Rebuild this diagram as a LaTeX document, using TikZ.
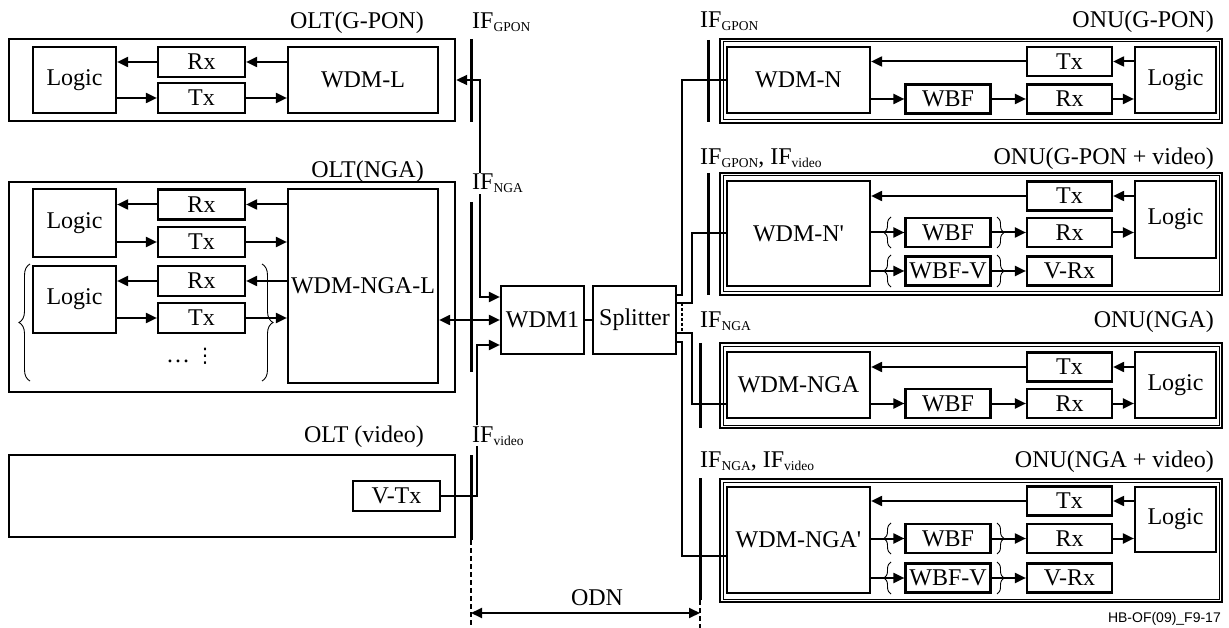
\documentclass[tikz,border=0pt]{standalone}
\usepackage{fontspec}
\setmainfont{Liberation Serif}
\newfontfamily\figfont{Liberation Sans}
\newfontfamily\symfont{DejaVu Sans}
\usetikzlibrary{arrows.meta,decorations.pathreplacing}
\newcommand{\lowtxt}[1]{\raisebox{-3pt}{\fontsize{13.5}{15}\selectfont #1}}
\tikzset{
  blk/.style={draw,line width=2.2pt,inner sep=0pt},
  trx/.style={blk,minimum width=87,minimum height=30},
  ntrx/.style={blk,minimum width=85,minimum height=29},
  oltbox/.style={draw,line width=2.4pt,inner sep=0pt},
  onu/.style={draw,line width=2pt,inner sep=0pt},
  onuin/.style={line width=1pt},
  link/.style={line width=2pt},
  arr/.style={link,-{Triangle[length=11pt,width=10pt]}},
  dblarr/.style={link,{Triangle[length=11pt,width=10pt]}-{Triangle[length=11pt,width=10pt]}},
  ifbar/.style={line width=3pt},
  ifdash/.style={line width=2.2pt,dash pattern=on 5pt off 3pt},
  brc/.style={decorate,decoration={brace,amplitude=11pt},line width=0.9pt},
  sbrc/.style={decorate,decoration={brace,amplitude=7pt},line width=0.9pt},
  lbl/.style={inner sep=1pt},
  cut/.style={inner sep=1pt,fill=white}
}
\begin{document}
\begin{tikzpicture}[x=1pt,y=-1pt,font=\fontsize{24}{27}\selectfont]
\useasboundingbox (0,0) rectangle (1229,628);
% OLT side
\node[oltbox,minimum width=446,minimum height=82] (olt1) at (232,80) {};
\node[blk,minimum width=83,minimum height=66] (lgA) at (74.5,80) {Logic};
\node[trx] (rxA) at (201.5,62) {Rx};
\node[trx] (txA) at (201.5,98) {Tx};
\node[blk,minimum width=150,minimum height=66] (wdmA) at (363,80) {WDM-L};
\draw[arr] (wdmA.west |- rxA) -- (rxA.east);
\draw[arr] (rxA.west) -- (lgA.east |- rxA);
\draw[arr] (lgA.east |- txA) -- (txA.west);
\draw[arr] (txA.east) -- (wdmA.west |- txA);

\node[oltbox,minimum width=446,minimum height=210] (olt2) at (232,287) {};
\node[blk,minimum width=83,minimum height=68] (lgB) at (74.5,223) {Logic};
\node[trx] (rxB) at (201.5,204.5) {Rx};
\node[trx] (txB) at (201.5,242) {Tx};
\node[blk,minimum width=83,minimum height=67] (lgC) at (74.5,299.5) {Logic};
\node[trx] (rxC) at (201.5,281) {Rx};
\node[trx] (txC) at (201.5,318) {Tx};
\node[blk,minimum width=150,minimum height=194] (wdmB) at (363,286) {WDM-NGA-L};
\draw[arr] (wdmB.west |- rxB) -- (rxB.east);
\draw[arr] (rxB.west) -- (lgB.east |- rxB);
\draw[arr] (lgB.east |- txB) -- (txB.west);
\draw[arr] (txB.east) -- (wdmB.west |- txB);
\draw[arr] (wdmB.west |- rxC) -- (rxC.east);
\draw[arr] (rxC.west) -- (lgC.east |- rxC);
\draw[arr] (lgC.east |- txC) -- (txC.west);
\draw[arr] (txC.east) -- (wdmB.west |- txC);
\draw[brc] (30,381) -- (30,264);
\draw[brc] (262,264) -- (262,381);
\node[lbl] (ell) at (178,361) {\ldots};
\node[lbl,font=\symfont\fontsize{20}{22}\selectfont] (vdt) at (205,356) {⋮};

\node[oltbox,minimum width=446,minimum height=82] (olt3) at (232,496) {};
\node[trx] (vtx) at (396.5,496) {V-Tx};

% centre
\node[blk,minimum width=83,minimum height=68] (wdm1) at (542.5,320) {WDM1};
\node[blk,minimum width=83,minimum height=68] (spl) at (634.5,320) {Splitter};
\draw[link] (wdm1) -- (spl);
\draw[dblarr] (olt1.east) -- ++(24,0) |- ([yshift=23pt]wdm1.west);
\draw[dblarr] (wdmB.east |- wdm1) -- (wdm1.west);
\draw[arr] (vtx.east) -- ++(36,0) |- ([yshift=-25pt]wdm1.west);

% ONU side
\node[onu,minimum width=502,minimum height=84] (onu1) at (971,81) {};
\draw[onuin] ([shift={(4pt,-4pt)}]onu1.north west) rectangle ([shift={(-4pt,4pt)}]onu1.south east);
\node[blk,minimum width=143,minimum height=66] (wdmN) at (798.5,80) {WDM-N};
\node[ntrx] (txN) at (1069.5,61.5) {Tx};
\node[ntrx] (wbfN) at (948,99) {WBF};
\node[ntrx] (rxN) at (1069.5,99) {Rx};
\node[blk,minimum width=81,minimum height=66] (lgN) at (1175.5,80) {Logic};
\draw[arr] (lgN.west |- txN) -- (txN.east);
\draw[arr] (txN.west) -- (wdmN.east |- txN);
\draw[arr] (wdmN.east |- wbfN) -- (wbfN.west);
\draw[arr] (wbfN.east) -- (rxN.west);
\draw[arr] (rxN.east) -- (lgN.west |- rxN);

\node[onu,minimum width=502,minimum height=122] (onu2) at (971,234) {};
\draw[onuin] ([shift={(4pt,-4pt)}]onu2.north west) rectangle ([shift={(-4pt,4pt)}]onu2.south east);
\node[blk,minimum width=143,minimum height=105] (wdmN2) at (798.5,233.5) {WDM-N\textquotesingle};
\node[ntrx] (txN2) at (1069.5,196) {Tx};
\node[blk,minimum width=81,minimum height=77] (lgN2) at (1175.5,219.5) {Logic};
\node[ntrx] (wbfN2) at (948,232.5) {WBF};
\node[ntrx] (rxN2) at (1069.5,232.5) {Rx};
\node[ntrx] (wbfvN2) at (948,271) {WBF-V};
\node[ntrx] (vrxN2) at (1069.5,271) {V-Rx};
\draw[arr] (lgN2.west |- txN2) -- (txN2.east);
\draw[arr] (txN2.west) -- (wdmN2.east |- txN2);
\draw[arr] (wdmN2.east |- wbfN2) -- (wbfN2.west);
\draw[arr] (wbfN2.east) -- (rxN2.west);
\draw[arr] (rxN2.east) -- (lgN2.west |- rxN2);
\draw[arr] (wdmN2.east |- wbfvN2) -- (wbfvN2.west);
\draw[arr] (wbfvN2.east) -- (vrxN2.west);

\node[onu,minimum width=502,minimum height=85] (onu3) at (971,385.5) {};
\draw[onuin] ([shift={(4pt,-4pt)}]onu3.north west) rectangle ([shift={(-4pt,4pt)}]onu3.south east);
\node[blk,minimum width=143,minimum height=66] (wdmG) at (798.5,385) {WDM-NGA};
\node[ntrx] (txG) at (1069.5,367) {Tx};
\node[ntrx] (wbfG) at (948,403.5) {WBF};
\node[ntrx] (rxG) at (1069.5,403.5) {Rx};
\node[blk,minimum width=81,minimum height=66] (lgG) at (1175.5,385) {Logic};
\draw[arr] (lgG.west |- txG) -- (txG.east);
\draw[arr] (txG.west) -- (wdmG.east |- txG);
\draw[arr] (wdmG.east |- wbfG) -- (wbfG.west);
\draw[arr] (wbfG.east) -- (rxG.west);
\draw[arr] (rxG.east) -- (lgG.west |- rxG);

\node[onu,minimum width=502,minimum height=123] (onu4) at (971,540.5) {};
\draw[onuin] ([shift={(4pt,-4pt)}]onu4.north west) rectangle ([shift={(-4pt,4pt)}]onu4.south east);
\node[blk,minimum width=143,minimum height=106] (wdmG2) at (798.5,540) {WDM-NGA\textquotesingle};
\node[ntrx] (txG2) at (1069.5,501) {Tx};
\node[blk,minimum width=81,minimum height=65] (lgG2) at (1175.5,519.5) {Logic};
\node[ntrx] (wbfG2) at (948,538.5) {WBF};
\node[ntrx] (rxG2) at (1069.5,538.5) {Rx};
\node[ntrx] (wbfvG2) at (948,578) {WBF-V};
\node[ntrx] (vrxG2) at (1069.5,578) {V-Rx};
\draw[arr] (lgG2.west |- txG2) -- (txG2.east);
\draw[arr] (txG2.west) -- (wdmG2.east |- txG2);
\draw[arr] (wdmG2.east |- wbfG2) -- (wbfG2.west);
\draw[arr] (wbfG2.east) -- (rxG2.west);
\draw[arr] (rxG2.east) -- (lgG2.west |- rxG2);
\draw[arr] (wdmG2.east |- wbfvG2) -- (wbfvG2.west);
\draw[arr] (wbfvG2.east) -- (vrxG2.west);

\draw[sbrc] (891,248) -- (891,217);
\draw[sbrc] (997,217) -- (997,248);
\draw[sbrc] (891,287) -- (891,255);
\draw[sbrc] (997,255) -- (997,287);
\draw[sbrc] (891,554) -- (891,523);
\draw[sbrc] (997,523) -- (997,554);
\draw[sbrc] (891,594) -- (891,562);
\draw[sbrc] (997,562) -- (997,594);

% splitter outputs
\draw[link] ([yshift=25pt]spl.east) -- ++(5,0) |- (wdmN.west);
\draw[link] ([yshift=17pt]spl.east) -- ++(15,0) |- (wdmN2.west);
\draw[link] ([yshift=-13pt]spl.east) -- ++(15,0) |- (wdmG.west |- wbfG);
\draw[link] ([yshift=-22pt]spl.east) -- ++(5,0) |- ([yshift=-16pt]wdmG2.west);
\draw[link,dash pattern=on 3pt off 2pt] ([xshift=5pt,yshift=17pt]spl.east) -- ([xshift=5pt,yshift=-13pt]spl.east);

% interfaces
\draw[ifbar] (471,39) -- (471,122);
\draw[ifbar] (471,202) -- (471,372);
\draw[ifbar] (471,455) -- (471,540);
\draw[ifdash] (471,540) -- (471,628);
\draw[ifbar] (708,40) -- (708,122);
\draw[ifbar] (708,173) -- (708,295);
\draw[ifbar] (700,343) -- (700,428);
\draw[ifbar] (700,478) -- (700,600);
\draw[ifdash] (700,600) -- (700,628);
\coordinate (odnL) at (471,613);
\coordinate (odnR) at (700,613);
\draw[dblarr] (odnL) -- (odnR);
\node[lbl,anchor=base] (odn) at (597,605) {ODN};

% labels
\node[lbl,anchor=base east] (tOltA) at (425,29) {OLT(G-PON)};
\node[lbl,anchor=base west] (tIfA) at (471,29) {IF\lowtxt{GPON}};
\node[lbl,anchor=base east] (tOltB) at (425,178) {OLT(NGA)};
\node[cut,anchor=base west] (tIfB) at (471,190) {IF\lowtxt{NGA}};
\node[lbl,anchor=base east] (tOltC) at (425,442) {OLT (video)};
\node[cut,anchor=base west] (tIfC) at (471,442) {IF\lowtxt{video}};
\node[lbl,anchor=base west] (tIfN) at (699,28) {IF\lowtxt{GPON}};
\node[lbl,anchor=base east] (tOnuA) at (1215,28) {ONU(G-PON)};
\node[lbl,anchor=base west] (tIfN2) at (699,165) {IF\lowtxt{GPON}, IF\lowtxt{video}};
\node[lbl,anchor=base east] (tOnuB) at (1215,165) {ONU(G-PON + video)};
\node[lbl,anchor=base west] (tIfG) at (699,327) {IF\lowtxt{NGA}};
\node[lbl,anchor=base east] (tOnuC) at (1215,327) {ONU(NGA)};
\node[lbl,anchor=base west] (tIfG2) at (699,467) {IF\lowtxt{NGA}, IF\lowtxt{video}};
\node[lbl,anchor=base east] (tOnuD) at (1215,467) {ONU(NGA + video)};
\node[lbl,anchor=base east,font=\figfont\fontsize{14}{16}\selectfont] (hb) at (1222,622) {HB-OF(09)\_F9-17};
\end{tikzpicture}
\end{document}
